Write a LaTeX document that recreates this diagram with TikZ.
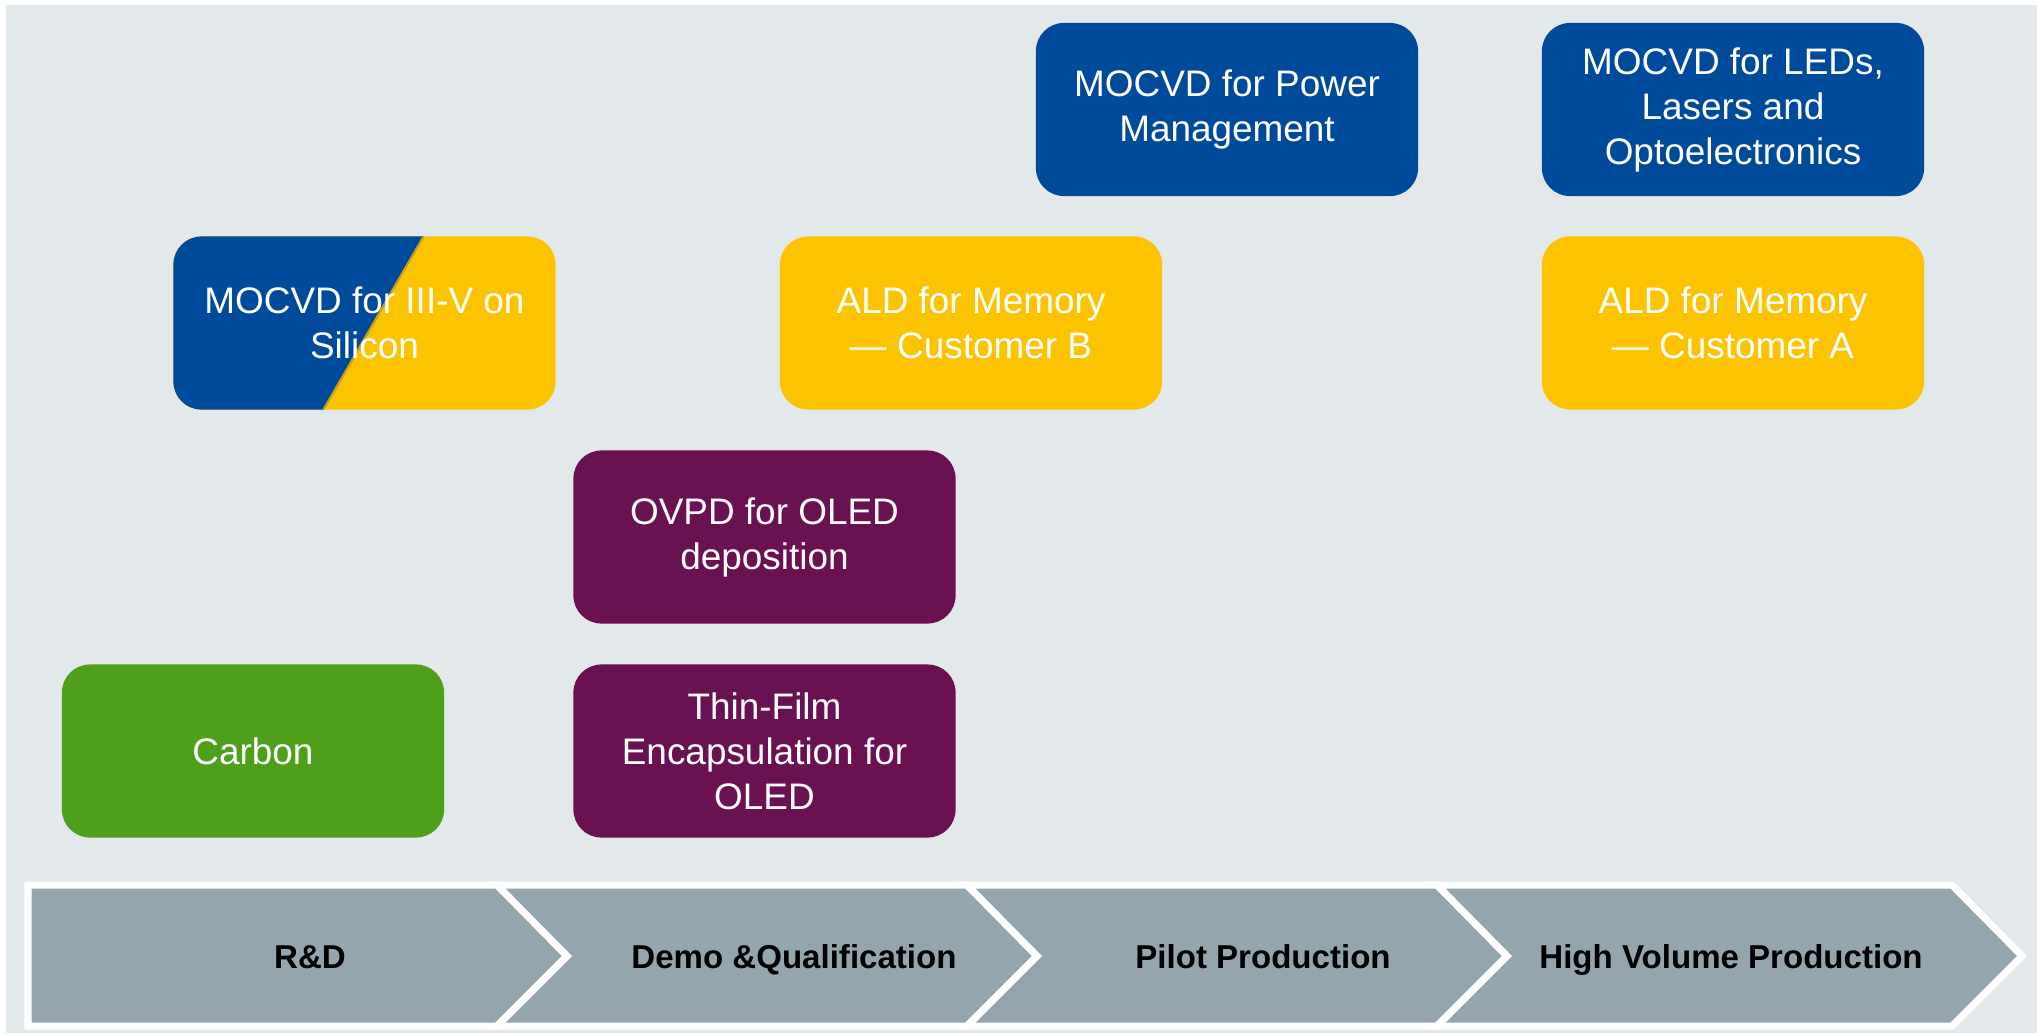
\documentclass[tikz,border=0pt]{standalone}
\usepackage{fontspec}
\setmainfont{Liberation Sans}
\usetikzlibrary{calc}

\definecolor{bggrey}{RGB}{227,232,235}
\definecolor{mocblue}{RGB}{0,74,155}
\definecolor{aldyellow}{RGB}{252,196,0}
\definecolor{oledpurple}{RGB}{106,17,82}
\definecolor{carbgreen}{RGB}{78,160,27}
\definecolor{chevgrey}{RGB}{148,165,174}
\definecolor{splitgold}{RGB}{196,158,28}

\tikzset{
  proc/.style={rectangle, rounded corners=0.28cm, minimum width=3.82cm,
    minimum height=1.73cm, inner sep=0pt, outer sep=0pt, align=center,
    text=white, font=\fontsize{10.5pt}{12.8pt}\selectfont},
  chev/.style={fill=chevgrey, draw=white, line width=2pt},
  phase/.style={anchor=base, font=\fontsize{9.4pt}{11pt}\selectfont\bfseries}
}

\begin{document}
\begin{tikzpicture}[x=0.01cm,y=-0.01cm]
\useasboundingbox (0,0) rectangle (2037,1033);
\fill[white] (0,0) rectangle (2037,1033);
\fill[bggrey] (6,5) rectangle (2037,1033);

% process boxes
\node[proc,fill=mocblue] (power) at (1227,109.5) {MOCVD for Power\\Management};
\node[proc,fill=mocblue] (leds) at (1733,109.5) {MOCVD for LEDs,\\Lasers and\\Optoelectronics};
\node[proc,fill=aldyellow,path picture={
    \fill[mocblue,sharp corners] ([xshift=2.5cm]path picture bounding box.north west)
      -- ([xshift=1.5cm]path picture bounding box.south west)
      -- (path picture bounding box.south west)
      -- (path picture bounding box.north west) -- cycle;
    \draw[splitgold,line width=0.6pt] ([xshift=2.5cm]path picture bounding box.north west)
      -- ([xshift=1.5cm]path picture bounding box.south west);
  }] (iiiv) at (364.5,323) {MOCVD for III-V on\\Silicon};
\node[proc,fill=aldyellow] (aldb) at (971,323) {ALD for Memory\\— Customer B};
\node[proc,fill=aldyellow] (alda) at (1733,323) {ALD for Memory\\— Customer A};
\node[proc,fill=oledpurple] (ovpd) at (764.5,537) {OVPD for OLED\\deposition};
\node[proc,fill=oledpurple] (tfe) at (764.5,751) {Thin-Film\\Encapsulation for\\OLED};
\node[proc,fill=carbgreen] (carbon) at (253,751) {Carbon};

% phase chevrons
\draw[chev] (28,885) -- (497,885) -- (567,956) -- (497,1026) -- (28,1026) -- cycle;
\foreach \xa/\xb in {497/967, 967/1437, 1437/1952}
  \draw[chev] (\xa,885) -- (\xb,885) -- (\xb+70,956) -- (\xb,1026)
    -- (\xa,1026) -- (\xa+70,956) -- cycle;

\node[phase] (rd) at (310,968) {R\&D};
\node[phase] (demo) at (794,968) {Demo \&Qualification};
\node[phase] (pilot) at (1263,968) {Pilot Production};
\node[phase] (hvp) at (1731,968) {High Volume Production};
\end{tikzpicture}
\end{document}
